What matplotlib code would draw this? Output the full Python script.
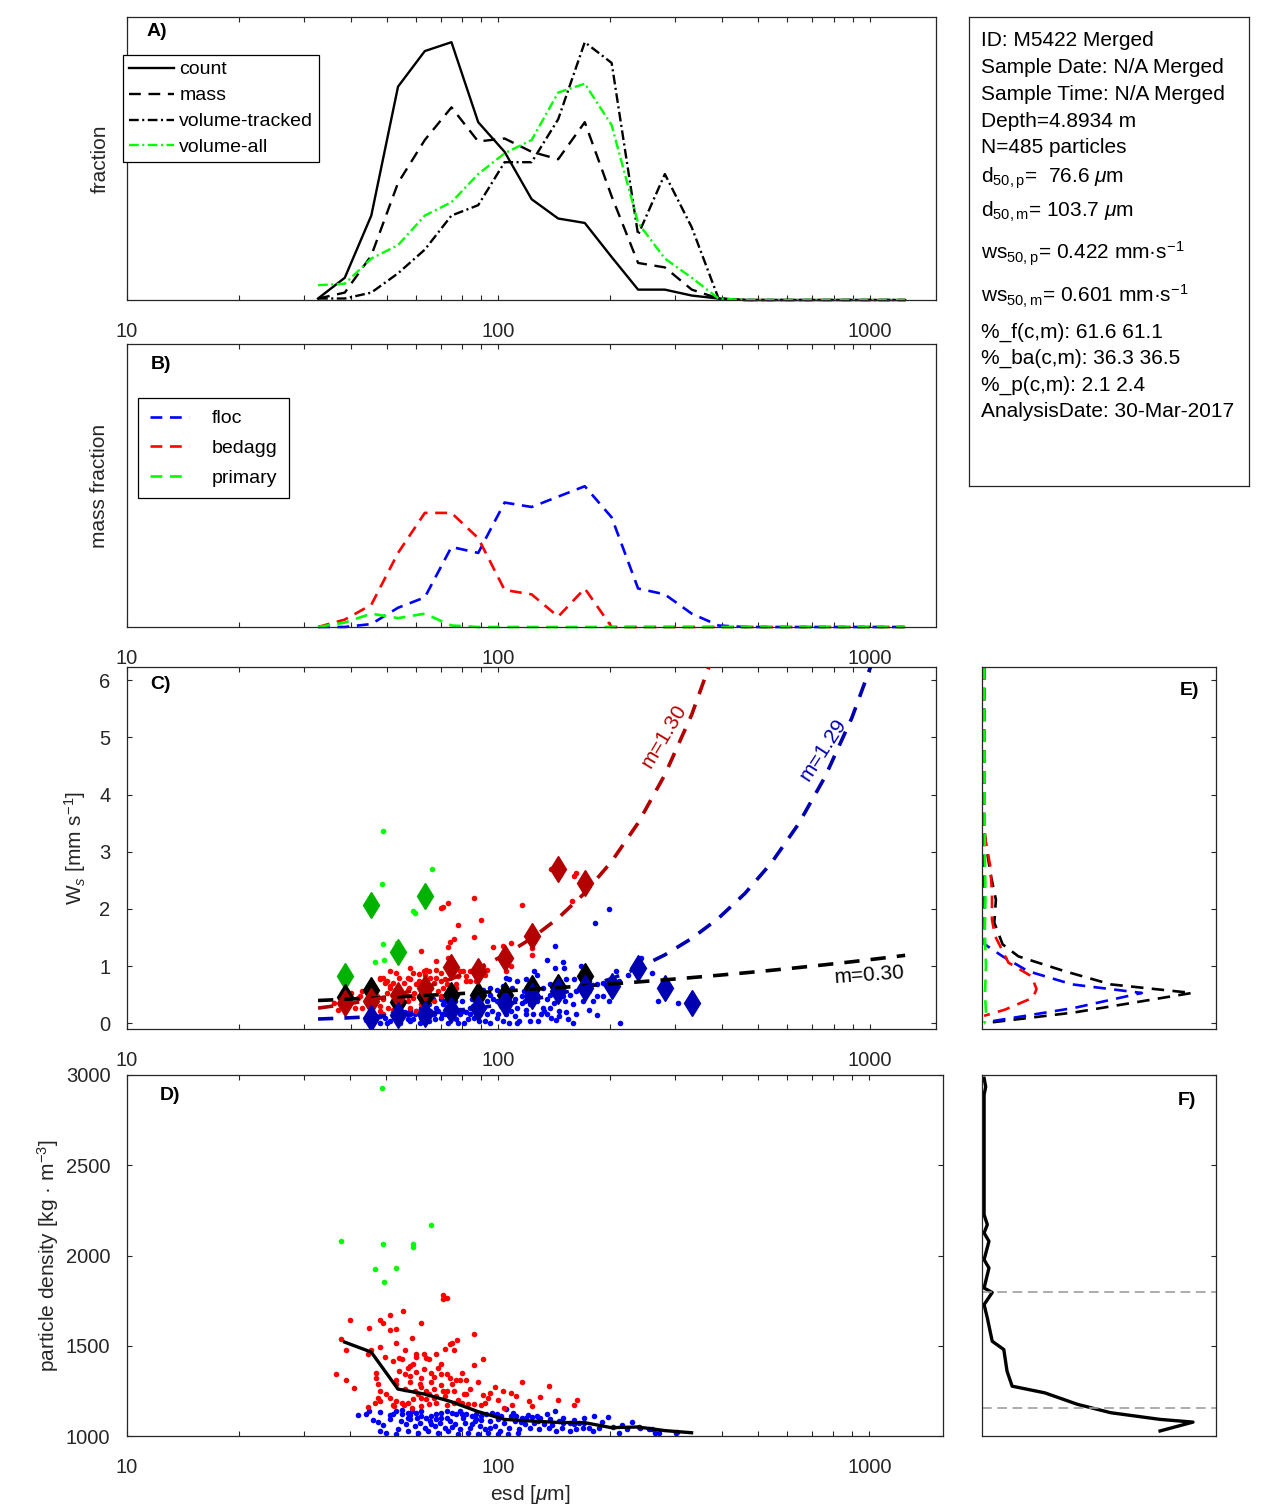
import numpy as np
import matplotlib
matplotlib.use("Agg")
import matplotlib.pyplot as plt
from matplotlib.ticker import FixedLocator, FixedFormatter, LogLocator, NullFormatter

plt.rcParams['font.family'] = ['Liberation Sans', 'DejaVu Sans']
plt.rcParams['mathtext.fontset'] = 'custom'
plt.rcParams['mathtext.rm'] = 'Liberation Sans'
plt.rcParams['mathtext.it'] = 'Liberation Sans:italic'
plt.rcParams['mathtext.bf'] = 'Liberation Sans:bold'
plt.rcParams['lines.scale_dashes'] = False

# ---- data -------------------------------------------------------------
# size class centres (esd, um)
esd_bins = [32.7, 38.6, 45.5, 53.7, 63.4, 74.8, 88.3, 104, 123, 145, 171, 202,
            238, 281, 332, 392, 462, 545, 643, 759, 896, 1057, 1247]

# A) size distributions
frac_count = [0.001, 0.015, 0.057, 0.144, 0.168, 0.174, 0.120, 0.100, 0.068, 0.055, 0.052, 0.029,
              0.007, 0.007, 0.003, 0.001, 0, 0, 0, 0, 0, 0, 0]
frac_mass = [0.001, 0.005, 0.030, 0.079, 0.108, 0.130, 0.107, 0.109, 0.100, 0.095, 0.120, 0.070,
             0.025, 0.022, 0.007, 0.001, 0, 0, 0, 0, 0, 0, 0]
frac_vol_tracked = [0.001, 0.001, 0.005, 0.018, 0.034, 0.057, 0.064, 0.093, 0.093, 0.122, 0.174, 0.160,
                    0.044, 0.085, 0.049, 0.001, 0, 0, 0, 0, 0, 0, 0]
frac_vol_all = [0.010, 0.011, 0.028, 0.037, 0.057, 0.066, 0.085, 0.099, 0.108, 0.140, 0.146, 0.118,
                0.052, 0.028, 0.015, 0.001, 0, 0, 0, 0, 0, 0, 0]

# B) mass fraction by class
mf_floc = [0, 0, 0.002, 0.013, 0.020, 0.054, 0.050, 0.084, 0.081, 0.088, 0.095, 0.074,
           0.026, 0.022, 0.009, 0.001, 0, 0, 0, 0, 0, 0, 0]
mf_bedagg = [0, 0.005, 0.015, 0.050, 0.077, 0.077, 0.060, 0.025, 0.022, 0.007, 0.026, 0,
             0, 0, 0, 0, 0, 0, 0, 0, 0, 0, 0]
mf_primary = [0, 0.003, 0.009, 0.006, 0.009, 0.001, 0, 0, 0, 0, 0, 0,
              0, 0, 0, 0, 0, 0, 0, 0, 0, 0, 0]

# C) settling velocity (esd um, ws mm/s)
c_floc = [(199, 2.00), (182, 1.76), (142, 1.36), (135, 1.10), (149, 1.07), (142, 0.97), (150, 0.97),
          (125, 0.91), (127, 0.84), (167, 1.00), (208, 0.91), (242, 1.14), (224, 0.85), (259, 0.88),
          (105, 0.80), (107, 0.78), (112, 0.74), (119, 0.77), (152, 0.77), (160, 0.77), (169, 0.74),
          (176, 0.74), (184, 0.68), (191, 0.71), (204, 0.62), (213, 0.01), (269, 0.39), (305, 0.36),
          (184, 0.14), (175, 0.24), (152, 0.19), (143, 0.06), (159, 0.01), (138, 0.27), (132, 0.27),
          (127, 0.39), (122, 0.33), (116, 0.36), (112, 0.27), (108, 0.22), (105, 0.16), (102, 0.30),
          (99, 0.39), (95, 0.50), (93, 0.39), (91, 0.27), (88, 0.19), (86, 0.10), (81, 0.01),
          (79, 0.16), (76, 0.27), (74, 0.36), (73, 0.22), (71, 0.33), (70, 0.42), (68, 0.27),
          (67, 0.16), (65, 0.04), (64, 0.19), (62, 0.10), (60, 0.22), (58, 0.16), (57, 0.07),
          (55, 0.16), (53, 0.07), (52, 0.19), (50, 0.01), (48, 0.01), (48, 0.13), (65, 0.33),
          (73, 0.47), (77, 0.47), (80, 0.39), (84, 0.27), (87, 0.47), (91, 0.59), (95, 0.62),
          (99, 0.59), (103, 0.65), (109, 0.62), (117, 0.56), (122, 0.50), (127, 0.59), (132, 0.62),
          (138, 0.50), (143, 0.56), (149, 0.47), (156, 0.50), (162, 0.56), (169, 0.39), (176, 0.56),
          (184, 0.47), (191, 0.47), (199, 0.39), (212, 0.74), (107, 0.01), (112, 0.01), (99, 0.10),
          (95, 0.01), (93, 0.16), (82, 0.19), (77, 0.07), (73, 0.01), (70, 0.10), (62, 0.27),
          (59, 0.07), (58, 0.22), (54, 0.22), (130, 0.16), (135, 0.16), (146, 0.22), (119, 0.16),
          (122, 0.04), (89, 0.04), (84, 0.16), (79, 0.24), (72, 0.16), (69, 0.22), (57, 0.16),
          (101, 0.50), (105, 0.39), (116, 0.47), (124, 0.68), (138, 0.68), (149, 0.62), (167, 0.62),
          (45, 0.10), (44, 0.05),
          (49.5, 0.10), (51.1, 0.04), (52.7, 0.13), (54.4, 0.01), (56, 0.19), (57.8, 0.04),
          (59.7, 0.16), (61.5, 0.01), (63.4, 0.10), (65.4, 0.22), (67.5, 0.07), (70.4, 0.16),
          (73.4, 0.27), (75.6, 0.13), (78, 0.01), (80.4, 0.22), (82.9, 0.07), (85.6, 0.30),
          (89.2, 0.16), (92, 0.04), (95.9, 0.22), (99.9, 0.16), (103, 0.04), (106, 0.24),
          (111, 0.13), (114, 0.04), (119, 0.24), (124, 0.16), (128, 0.04), (133, 0.22),
          (139, 0.10), (146, 0.13), (154, 0.07), (162, 0.16), (66.8, 0.42), (72, 0.39),
          (76.4, 0.39), (84.7, 0.42), (90, 0.47), (96.9, 0.42), (104, 0.47), (111, 0.42),
          (118, 0.39), (127, 0.47), (135, 0.42), (141.7, 0.36), (150.9, 0.39), (159, 0.33),
          (171, 0.47), (180, 0.39)]
c_bedagg = [(139, 2.69), (162, 2.62), (160, 2.58), (116, 2.07), (86, 2.19), (73, 2.11), (70, 2.02),
            (71, 2.03), (158, 2.13), (78, 1.72), (90, 1.81), (74, 1.43), (76, 1.48), (73, 1.34),
            (86, 1.50), (62, 1.27), (97, 1.34), (103, 1.36), (108, 1.41), (123, 1.32), (123, 1.20),
            (103, 1.06), (108, 1.00), (93, 0.94), (90, 0.85), (82, 0.82), (79, 0.91), (82, 0.74),
            (77, 0.62), (74, 0.47), (72, 0.77), (68, 1.09), (68, 0.94), (65, 0.91), (64, 0.94),
            (63, 0.91), (61, 0.86), (58, 0.96), (58, 0.77), (57, 0.80), (53, 0.88), (51, 0.91),
            (49, 0.80), (48, 0.77), (50, 0.74), (51, 0.62), (53, 0.59), (55, 0.50), (57, 0.59),
            (60, 0.68), (62, 0.56), (64, 0.71), (66, 0.62), (69, 0.56), (70, 0.74), (71, 0.62),
            (73, 0.97), (65, 0.47), (67, 0.39), (63, 0.42), (59, 0.45), (57, 0.39), (55, 0.33),
            (52, 0.39), (49, 0.42), (47, 0.47), (48, 0.30), (46, 0.39), (48, 0.22), (43, 0.27),
            (41, 0.27), (40, 0.53), (37, 0.24), (43, 0.56), (58, 0.27), (62, 0.33), (60, 0.22),
            (53, 0.16), (52, 0.24), (50, 0.53), (52, 0.71), (54, 0.80), (59, 0.88), (68, 0.80),
            (63, 0.62), (57, 0.47), (87, 0.74), (91, 1.00), (105, 0.91), (84, 0.91), (73, 1.14),
            (77, 0.68), (70, 0.88), (36, 0.35), (39, 0.55), (42, 0.45),
            (48, 0.80), (49.5, 0.71), (51, 0.65), (52.7, 0.56), (53.8, 0.47), (55.7, 0.71),
            (57.6, 0.62), (59.3, 0.53), (61.3, 0.47), (63.4, 0.85), (64.7, 0.53), (67, 0.71),
            (70, 0.47), (72.6, 0.68), (74.9, 0.62), (78, 0.82), (80.4, 0.91), (83.8, 0.74),
            (88.3, 0.91), (92, 0.85), (46.6, 0.62), (45.1, 0.30), (44.2, 0.39), (49, 0.16),
            (50.6, 0.27), (39.5, 0.39), (38.6, 0.47), (42.4, 0.47), (61, 0.74), (65.4, 0.80)]
c_primary = [(48.8, 3.37), (66.1, 2.70), (48.6, 2.44), (59.0, 1.96), (59.5, 1.93), (48.8, 1.38),
             (53.2, 1.41), (49.2, 1.10), (46.6, 1.08), (37.7, 0.82)]

# class medians of ws per size bin: (bin index, ws)
med_primary = [(1, 0.82), (2, 2.07), (3, 1.25), (4, 2.22)]
med_all = [(1, 0.46), (2, 0.59), (3, 0.37), (4, 0.46), (5, 0.50), (6, 0.50), (7, 0.50),
           (8, 0.62), (9, 0.63), (10, 0.82)]
med_bedagg = [(1, 0.36), (2, 0.39), (3, 0.50), (4, 0.61), (5, 0.98), (6, 0.91), (7, 1.14),
              (8, 1.52), (9, 2.69), (10, 2.46)]
med_floc = [(2, 0.10), (3, 0.14), (4, 0.16), (5, 0.24), (6, 0.27), (7, 0.36), (8, 0.48),
            (9, 0.56), (10, 0.62), (11, 0.65), (12, 0.96), (13, 0.61), (14, 0.36)]

# power-law fits ws = a * d^m
fit_all = (0.140, 0.30)
fit_bedagg = (0.00285, 1.30)
fit_floc = (0.00083, 1.29)

# D) particle density (esd um, kg/m3)
d_floc = [(42, 1116), (44, 1123), (45, 1138), (48, 1134), (47.5, 1079), (48, 1027), (50, 1018), (53, 1013),
          (51.1, 1116), (52, 1123), (53, 1138), (55, 1120), (57, 1129), (58.5, 1138), (60, 1129),
          (62, 1110), (64, 1101), (66, 1110), (68, 1120), (70, 1129), (73, 1138), (75, 1129),
          (77, 1120), (79, 1138), (82, 1123), (85, 1110), (87, 1120), (90, 1110), (93, 1120),
          (96, 1129), (99, 1120), (102, 1110), (105, 1147), (108, 1110), (112, 1110), (116, 1101),
          (119, 1101), (123, 1105), (127, 1110), (130, 1101), (135, 1120), (138, 1092), (142, 1138),
          (146, 1083), (150, 1074), (156, 1074), (160, 1068), (165, 1074), (170, 1074), (176, 1046),
          (181, 1110), (187, 1046), (198, 1107), (204, 1050), (212, 1018), (222, 1037), (239, 1050),
          (255, 1037), (271, 1018), (301, 1018),
          (54.7, 1083), (56.5, 1064), (57.8, 1092), (59.8, 1055), (61.5, 1074), (63.4, 1046),
          (65.4, 1083), (67.4, 1055), (69.6, 1074), (71.8, 1046), (74.1, 1083), (76.4, 1064),
          (78.8, 1037), (81.3, 1074), (83.8, 1046), (86.5, 1083), (89.2, 1055), (92, 1037),
          (94.9, 1083), (97.8, 1055), (101, 1027), (104, 1074), (107, 1046), (111, 1083),
          (114, 1037), (118, 1064), (121.5, 1046), (125, 1074), (129, 1037), (133, 1064),
          (137.5, 1046), (143, 1027), (149, 1046), (156, 1027), (162, 1037), (169, 1046), (180, 1027),
          (53.8, 1037), (57.2, 1027), (60.9, 1018), (64.7, 1027), (69, 1018), (73.4, 1027),
          (78, 1013), (83, 1018), (88.3, 1013), (94, 1018), (100, 1013), (106, 1013), (113, 1018),
          (57, 1101), (60.3, 1101), (68.2, 1092), (73, 1101), (80.4, 1101), (87.4, 1092),
          (265, 1018), (303, 1022), (259, 1037), (241, 1046),
          (46, 1090), (49, 1060), (51, 1095), (55, 1145), (58, 1115), (62, 1140), (66, 1065),
          (70, 1100), (75, 1050), (80, 1120), (85, 1065), (90, 1090), (95, 1045), (100, 1095),
          (110, 1130), (115, 1075), (120, 1115), (128, 1085), (140, 1060), (150, 1100), (160, 1090),
          (170, 1100), (190, 1075), (215, 1060), (230, 1075)]
d_bedagg = [(71, 1783), (71, 1760), (73, 1765), (55.5, 1695), (62, 1625), (39.9, 1641), (48, 1640),
            (49, 1625), (51, 1669), (45, 1597), (51, 1588), (53, 1593), (37.7, 1538), (38.9, 1474),
            (86, 1566), (77.6, 1534), (58.5, 1544), (48, 1494), (44.5, 1452), (45.5, 1474), (53, 1516),
            (56, 1479), (60, 1452), (63, 1452), (68, 1452), (72, 1483), (74, 1507), (75, 1516),
            (76, 1479), (52, 1415), (54, 1433), (55, 1429), (57, 1378), (57.8, 1387), (63, 1369),
            (69, 1378), (65, 1424), (64, 1433), (60, 1437), (49.5, 1437), (91, 1424), (86, 1396),
            (36.5, 1346), (39, 1310), (41, 1267), (47, 1350), (47, 1322), (47.5, 1286), (48, 1249),
            (47.5, 1212), (48, 1193), (51, 1212), (53, 1313), (53, 1286), (56, 1341), (57.8, 1332),
            (60, 1356), (62, 1322), (67, 1328), (70, 1341), (73, 1341), (74, 1322), (77, 1313),
            (79, 1313), (82, 1313), (61.5, 1286), (59.8, 1249), (64, 1249), (67, 1258), (71, 1249),
            (73, 1249), (76, 1249), (61, 1230), (65, 1230), (68, 1221), (72, 1221), (81, 1230),
            (82, 1234), (53, 1193), (55, 1184), (57, 1184), (59, 1203), (62, 1212), (64, 1203),
            (67, 1212), (52.5, 1166), (55.7, 1171), (58.5, 1157), (62, 1166), (65, 1175), (68, 1184),
            (73, 1171), (76, 1184), (80, 1184), (83, 1179), (86, 1175), (90, 1171), (92, 1184),
            (94, 1212), (91, 1226), (98, 1273), (103, 1249), (108, 1236), (116, 1300), (104, 1157),
            (109, 1171), (121, 1193), (123, 1166), (137, 1276), (160, 1171), (163, 1199), (44.5, 1162),
            (46.5, 1184), (52, 1171),
            (50, 1230), (56, 1260), (58, 1300), (62, 1270), (66, 1300), (70, 1280), (75, 1290),
            (78, 1200), (84, 1260), (88, 1300), (95, 1240), (100, 1200), (112, 1220), (130, 1215),
            (145, 1200), (54, 1360), (59, 1400), (66, 1350), (70, 1400), (80, 1350)]
d_primary = [(37.7, 2082), (46.7, 1927), (48.8, 2930), (48.9, 2066), (53.2, 1931), (49.3, 1853),
             (59.0, 2064), (59.0, 2047), (66.1, 2167)]
# mean density per bin (bins 1..14)
rho_mean = [1520, 1465, 1260, 1232, 1190, 1135, 1092, 1083, 1075, 1074, 1046, 1050, 1030, 1018]

# E) ws distributions (fraction, ws)
e_total = [(0.0, 6.23), (0.0, 3.44), (0.009, 3.09), (0.030, 2.57), (0.051, 2.16), (0.044, 1.76),
           (0.080, 1.38), (0.148, 1.17), (0.348, 0.91), (0.547, 0.68), (0.896, 0.53), (0.390, 0.19),
           (0.0, 0.0)]
e_floc = [(0.0, 6.23), (0.0, 3.44), (0.003, 1.38), (0.080, 1.17), (0.190, 0.91), (0.380, 0.68),
          (0.680, 0.53), (0.390, 0.27), (0.010, 0.02)]
e_bedagg = [(0.0, 6.23), (0.0, 3.44), (0.006, 3.20), (0.027, 2.74), (0.034, 2.28), (0.034, 1.81),
            (0.048, 1.52), (0.105, 1.06), (0.205, 0.82), (0.226, 0.60), (0.212, 0.45), (0.091, 0.24),
            (0.0, 0.13)]
e_primary = [(0.0, 6.23), (0.003, 3.0), (0.006, 2.2), (0.003, 1.6), (0.008, 1.0), (0.004, 0.5),
             (0.008, 0.2), (0.002, 0.0)]

# F) density distribution (fraction, rho)
f_rho = [(0.0, 2982), (0.007, 2935), (0.0, 2890), (0.0, 2226), (0.014, 2171), (0.0, 2125),
         (0.021, 2079), (0.0, 1977), (0.021, 1931), (0.0, 1820), (0.035, 1795), (0.0, 1728),
         (0.014, 1654), (0.035, 1525), (0.085, 1479), (0.099, 1359), (0.121, 1276), (0.262, 1239),
         (0.404, 1175), (0.546, 1129), (0.759, 1092), (0.901, 1077), (0.759, 1028)]
rho_limits = [1155, 1800]

info_lines = [
    "ID: M5422 Merged",
    "Sample Date: N/A Merged",
    "Sample Time: N/A Merged",
    "Depth=4.8934 m",
    "N=485 particles",
    r"d$_\mathrm{50,p}$=  76.6 $\mu$m",
    r"d$_\mathrm{50,m}$= 103.7 $\mu$m",
    r"ws$_\mathrm{50,p}$= 0.422 mm·s$^\mathrm{-1}$",
    r"ws$_\mathrm{50,m}$= 0.601 mm·s$^\mathrm{-1}$",
    "%_f(c,m): 61.6 61.1",
    "%_ba(c,m): 36.3 36.5",
    "%_p(c,m): 2.1 2.4",
    "AnalysisDate: 30-Mar-2017",
]

# ---- style --------------------------------------------------------------
dark = '#262626'
bright_green = '#00FF00'
dk_red = '#B30000'
dk_blue = '#0000B3'
dk_green = '#00B300'
dash = (0, (8.5, 5.5))
dashdot = (0, (7, 2.5, 1.5, 2.5))
big_dash = (0, (11, 8))

W, H = 1270, 1511
fig = plt.figure(figsize=(W / 100, H / 100), dpi=100)


def px_rect(l, t, r, b):
    return [l / W, 1 - b / H, (r - l) / W, (b - t) / H]


ax_a = fig.add_axes(px_rect(127, 17, 936, 300))
ax_b = fig.add_axes(px_rect(127, 344, 936, 627))
ax_c = fig.add_axes(px_rect(127, 667, 936, 1029))
ax_e = fig.add_axes(px_rect(982, 667, 1216, 1029))
ax_d = fig.add_axes(px_rect(127, 1075, 943, 1436))
ax_f = fig.add_axes(px_rect(982, 1075, 1216, 1436))
ax_box = fig.add_axes(px_rect(969, 17, 1249, 486))

for ax in (ax_a, ax_b, ax_c, ax_d, ax_e, ax_f, ax_box):
    for s in ax.spines.values():
        s.set_color(dark)
        s.set_linewidth(0.9)

for ax in (ax_a, ax_b, ax_c, ax_d):
    ax.set_xscale('log')
    ax.xaxis.set_major_locator(FixedLocator([10, 100, 1000]))
    ax.xaxis.set_major_formatter(FixedFormatter(['10', '100', '1000']))
    ax.xaxis.set_minor_locator(LogLocator(base=10, subs=np.arange(2, 10), numticks=20))
    ax.xaxis.set_minor_formatter(NullFormatter())
    ax.tick_params(axis='x', which='both', direction='in', top=True, bottom=True,
                   length=3.6, width=0.8, colors=dark, labelsize=14.5, pad=15.5)
    ax.tick_params(axis='y', which='both', direction='in', left=True, right=True,
                   length=3.6, width=0.8, colors=dark, labelsize=14.5, pad=12)

for ax in (ax_a, ax_b, ax_c):
    ax.set_xlim(10, 1510)
ax_d.set_xlim(10, 1580)

# ---- A ----
ax_a.plot(esd_bins, frac_count, color='k', lw=1.7, label='count', clip_on=False)
ax_a.plot(esd_bins, frac_mass, color='k', lw=1.7, ls=dash, label='mass', clip_on=False)
ax_a.plot(esd_bins, frac_vol_tracked, color='k', lw=1.7, ls=dashdot, label='volume-tracked', clip_on=False)
ax_a.plot(esd_bins, frac_vol_all, color=bright_green, lw=1.7, ls=dashdot, label='volume-all', clip_on=False)
ax_a.set_ylim(0, 0.191)
ax_a.set_yticks([])
leg = ax_a.legend(loc='upper left', bbox_to_anchor=(-0.005, 0.866), borderaxespad=0,
                  fontsize=14, frameon=True, fancybox=False, framealpha=1, edgecolor='k',
                  handlelength=2.3, handletextpad=0.3, labelspacing=0.43, borderpad=0.3)
leg.get_frame().set_linewidth(0.9)
ax_a.set_ylabel('fraction', fontsize=15, color=dark)
ax_a.yaxis.set_label_coords(-0.0334, 0.5)
ax_a.yaxis.label.set_va('center')

# ---- B ----
ax_b.plot(esd_bins, mf_floc, color='#0000FF', lw=1.9, ls=dash, label='floc', clip_on=False)
ax_b.plot(esd_bins, mf_bedagg, color='#FF0000', lw=1.9, ls=dash, label='bedagg', clip_on=False)
ax_b.plot(esd_bins, mf_primary, color=bright_green, lw=1.9, ls=dash, label='primary', clip_on=False)
ax_b.set_ylim(0, 0.191)
ax_b.set_yticks([])
leg = ax_b.legend(loc='upper left', bbox_to_anchor=(0.0136, 0.809), borderaxespad=0,
                  fontsize=14, frameon=True, fancybox=False, framealpha=1, edgecolor='k',
                  handlelength=2.0, handletextpad=1.2, labelspacing=0.62, borderpad=0.6)
leg.get_frame().set_linewidth(0.9)
ax_b.set_ylabel('mass fraction', fontsize=15, color=dark)
ax_b.yaxis.set_label_coords(-0.0334, 0.5)
ax_b.yaxis.label.set_va('center')

# ---- C ----
for pts, col in ((c_floc, '#0000FF'), (c_bedagg, '#FF0000'), (c_primary, bright_green)):
    ax_c.scatter([p[0] for p in pts], [p[1] for p in pts], s=16, color=col, linewidths=0, zorder=2)
for med, col in ((med_primary, dk_green), (med_all, 'k'), (med_bedagg, dk_red), (med_floc, dk_blue)):
    ax_c.plot([esd_bins[i] for i, _ in med], [v for _, v in med], ls='none', marker='d',
              ms=13, color=col, mec=col, zorder=3)
for (a, m), col in ((fit_all, 'k'), (fit_bedagg, dk_red), (fit_floc, dk_blue)):
    d = np.array(esd_bins)
    ax_c.plot(d, a * d ** m, color=col, lw=2.6, ls=big_dash, zorder=4)
ax_c.text(280, 5.02, 'm=1.30', color=dk_red, fontsize=15, rotation=59,
          ha='center', va='center', rotation_mode='anchor')
ax_c.text(751, 4.79, 'm=1.29', color=dk_blue, fontsize=15, rotation=57,
          ha='center', va='center', rotation_mode='anchor')
ax_c.text(1000, 0.84, 'm=0.30', color='k', fontsize=15, rotation=4,
          ha='center', va='center', rotation_mode='anchor')
ax_c.set_ylim(-0.1, 6.23)
ax_c.set_yticks(range(7))
ax_c.set_ylabel(r'W$_s$ [mm s$^{-1}$]', fontsize=15, color=dark)
ax_c.yaxis.set_label_coords(-0.064, 0.5)
ax_c.yaxis.label.set_va('center')

# ---- E ----
for pts, col in ((e_total, 'k'), (e_floc, '#0000FF'), (e_bedagg, '#FF0000'), (e_primary, bright_green)):
    ax_e.plot([p[0] for p in pts], [p[1] for p in pts], color=col, lw=1.9, ls=(0, (9, 6)))
ax_e.set_xlim(-0.009, 1.0)
ax_e.set_ylim(-0.1, 6.23)
ax_e.set_xticks([])
ax_e.set_yticks(range(7))
ax_e.tick_params(axis='y', direction='in', left=False, right=True, labelleft=False,
                 length=3.6, width=0.8, colors=dark)

# ---- D ----
for pts, col in ((d_floc, '#0000FF'), (d_bedagg, '#FF0000'), (d_primary, bright_green)):
    ax_d.scatter([p[0] for p in pts], [p[1] for p in pts], s=16, color=col, linewidths=0, zorder=2)
ax_d.plot(esd_bins[1:15], rho_mean, color='k', lw=2.4, zorder=3)
ax_d.set_ylim(1000, 3000)
ax_d.set_yticks([1000, 1500, 2000, 2500, 3000])
ax_d.set_ylabel(r'particle density [kg · m$^{-3}$]', fontsize=15, color=dark)
ax_d.yaxis.set_label_coords(-0.097, 0.5)
ax_d.yaxis.label.set_va('center')
ax_d.set_xlabel(r'esd [$\mu$m]', fontsize=15, color=dark)
ax_d.xaxis.set_label_coords(0.494, -0.163)
ax_d.xaxis.label.set_va('center')

# ---- F ----
ax_f.plot([p[0] for p in f_rho], [p[1] for p in f_rho], color='k', lw=2.4)
for r in rho_limits:
    ax_f.axhline(r, color='#9E9E9E', lw=1.2, ls=(0, (7, 4)))
ax_f.set_xlim(-0.009, 1.0)
ax_f.set_ylim(1000, 3000)
ax_f.set_xticks([])
ax_f.set_yticks([1000, 1500, 2000, 2500, 3000])
ax_f.tick_params(axis='y', direction='in', left=False, right=True, labelleft=False,
                 length=3.6, width=0.8, colors=dark)

# ---- panel letters ----
for ax, lab, x, y in ((ax_a, 'A)', 0.037, 0.947), (ax_b, 'B)', 0.042, 0.926),
                      (ax_c, 'C)', 0.042, 0.953), (ax_d, 'D)', 0.053, 0.942),
                      (ax_e, 'E)', 0.885, 0.936), (ax_f, 'F)', 0.876, 0.928)):
    ax.text(x, y, lab, transform=ax.transAxes, fontsize=14, fontweight='bold',
            ha='center', va='center')

# ---- info box ----
ax_box.set_xticks([])
ax_box.set_yticks([])
baselines = [46, 73, 100, 127, 153, 183, 217, 260, 303, 338, 364, 391, 417]
for line, yb in zip(info_lines, baselines):
    fig.text(981 / W, 1 - yb / H, line, fontsize=15, color='k', va='baseline', ha='left')

fig.savefig('out.png', dpi=100)
